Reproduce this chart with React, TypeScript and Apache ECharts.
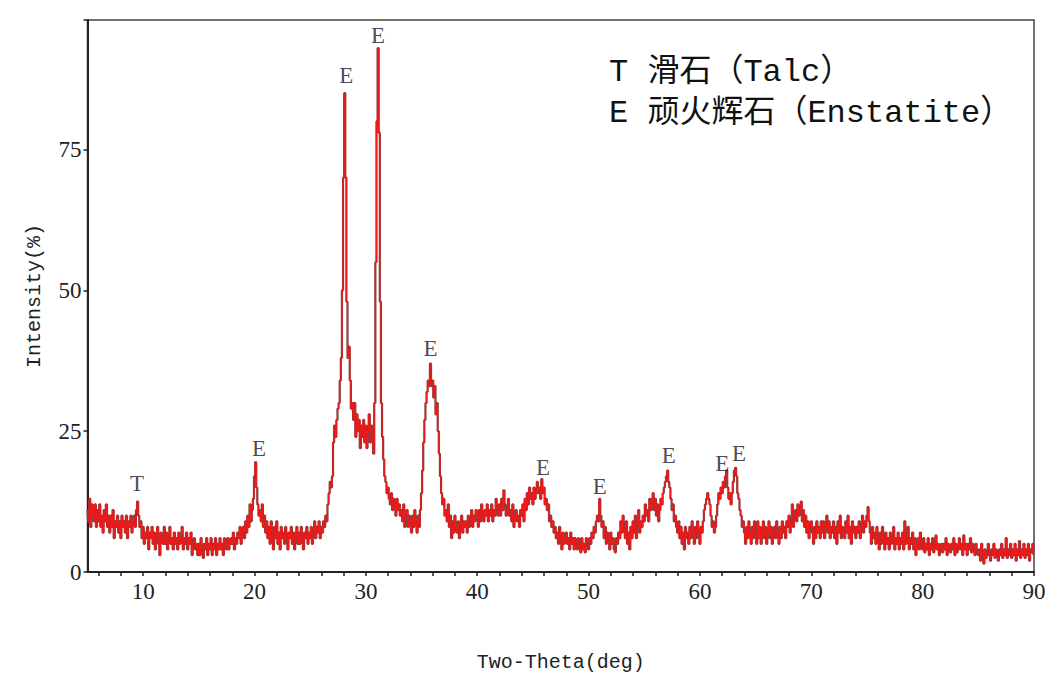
import React, { useEffect, useRef } from "react";
import * as echarts from "echarts";

// XRD intensity (%) sampled every 0.1 deg, one array per 5 degrees of 2θ
const X_START = 5;
const X_STEP = 0.1;
const seg05 = [11,9,13,8,12,10,9,12,8,11, 9,12,8,10,7,11,9,12,8,10, 7,10,8,11,6,9,8,10,7,9, 6,10,8,9,7,10,6,9,8,10, 7,9,10,8,11,12.5,10,8,9,6];
const seg10 = [8,5,7,6,8,4,7,6,8,5, 7,4,6,8,5,3,7,6,5,8, 5,7,4,6,8,5,6,4,7,5, 6,4,7,5,6,8,4,6,5,7, 4,6,5,7,3,5,6,4,5,3];
const seg15 = [5,3,6,4,2.5,5,4,6,3,5, 4,6,3,5,4,6,3,5,4,6, 4,5,3,6,5,4,6,4,5,6, 5,7,4,6,5,7,6,8,5,7, 8,6,9,7,10,8,12,9,11,13];
const seg20 = [17,19.5,15,12,10,11,9,12,8,10, 7,9,6,8,5,9,7,4,8,6, 9,5,7,4,8,6,7,5,8,6, 4,7,6,8,5,7,4,6,8,5, 7,5,8,6,4,7,6,8,5,7];
const seg25 = [6,8,5,7,9,6,8,7,9,6, 8,7,9,8,10,9,12,14,16,15, 17,23,26,24,27,29,30,34,38,50, 70,85,70,48,38,40,34,29,30,27, 30,24,28,25,27,22,26,24,27,23];
const seg30 = [26,22,25,28,23,26,24,21,30,55, 80,93,78,48,30,24,20,17,16,14, 15,13,12,14,11,13,12,10,13,11, 12,10,11,9,12,8,10,11,8,10, 9,7,10,8,11,9,7,10,8,11];
const seg35 = [14,18,23,27,30,32,34,33,37,33, 34,31,33,28,30,25,21,17,14,12, 13,10,11,9,12,8,10,6,9,7, 10,8,7,9,6,8,10,7,9,8, 9,7,10,8,9,11,8,10,9,11];
const seg40 = [10,8,11,9,12,10,9,11,10,12, 9,11,10,12,9,11,10,13,11,10, 12,10,13,11,14.5,12,10,11,13,10, 11,9,12,8,10,11,9,10,8,11, 10,12,9,13,11,14,12,15,13,14];
const seg45 = [12,15,13,14,16,14,15,13,16.5,14, 15,12,13,11,12,9,10,8,9,7, 8,6,7,5,8,6,4,7,5,6, 7,5,6,4,7,5,6,4,6,5, 4,6,5,3.5,6,4,5,3.5,6,5];
const seg50 = [4,6,5,7,6,8,7,9,10,9, 13,10,8,9,6,8,5,7,6,4, 7,5,6,4,3.5,6,5,7,6,9, 7,10,8,6,9,5,7,4,8,6, 9,7,10,6,8,11,7,9,8,10];
const seg55 = [9,12,10,11,9,13,11,12,14,11, 13,10,12,9,11,13,12,14,15,16, 17,18,16,15,13,11,12,9,10,8, 7,9,6,8,5,7,4,8,6,7, 5,8,6,9,7,5,8,6,9,7];
const seg60 = [5,8,7,9,11,12,13,14,13,12, 10,8,9,7,8,10,12,14,13,15, 14,16,15,17,18,15,13,14,12,14, 16,18,18.5,17,14,13,11,10,8,9, 7,5,8,6,9,7,5,8,6,9];
const seg65 = [7,5,9,6,8,5,7,9,6,8, 5,7,9,6,8,5,7,8,6,9, 7,5,8,6,9,7,8,6,9,8, 10,7,9,12,8,10,11,9,12,10, 11,12.5,9,11,8,10,7,9,6,8];
const seg70 = [9,7,5,8,6,9,7,8,6,9, 7,9,6,8,10,7,9,6,8,7, 9,6,8,5,9,7,10,6,8,7, 6,9,7,10,6,8,5,9,7,8, 6,8,7,9,6,8,10,7,9,8];
const seg75 = [10,11.5,9,7,5,8,6,7,5,8, 6,4,7,5,8,6,4,7,5,6, 4,7,5,6,8,4,6,5,7,4, 6,5,7,4,9,5,6,8,4,6, 5,7,4,6,3,5,6,4,7,5];
const seg80 = [4,6,3.5,5,4,6,3,5,4,6, 3.5,5,6.5,4,5,3,4,5,3.5,5, 4,6,3,5,4,3.5,5,4,6,3, 5,3.5,4,6,4,5,3,6.5,4,5, 3,5,4,6,3.5,5,4,3,5,4];
const seg85 = [3,4,2,5,3,1.5,4,2.5,3,5, 3,2,4,3,5,2.5,4,3,2,4, 3,5,2.5,4,3,6,2.5,4,3,5, 2.5,4,3,5,2,4,3,5.5,2.5,4, 3,5,2.5,4,3,5,2,4,3.5,5, 3];

const intensity = [
  ...seg05, ...seg10, ...seg15, ...seg20, ...seg25, ...seg30, ...seg35, ...seg40, ...seg45,
  ...seg50, ...seg55, ...seg60, ...seg65, ...seg70, ...seg75, ...seg80, ...seg85,
];

// Phase labels near peaks
const peakText = ["T", "E", "E", "E", "E", "E", "E", "E", "E", "E"];
const peakX = [9.45, 20.4, 28.24, 31.1, 35.8, 45.9, 51.0, 57.2, 62.0, 63.5];
const peakY = [15.8, 22, 88.2, 95.3, 39.7, 18.6, 15.2, 20.6, 19.3, 21.1];

const xLabelValues = [10, 20, 30, 40, 50, 60, 70, 80, 90];
const xTickValues = [6, 8, 10, 12, 14, 16, 18, 20, 22, 24, 26, 28, 30, 32, 34, 36, 38, 40, 42, 44, 46, 48, 50, 52, 54, 56, 58, 60, 62, 64, 66, 68, 70, 72, 74, 76, 78, 80, 82, 84, 86, 88, 90];
const legendLines = ["T 滑石（Talc）", "E 顽火辉石（Enstatite）"];

export default function App() {
  const ref = useRef<HTMLDivElement>(null);
  useEffect(() => {
    if (!ref.current) return;
    const chart = echarts.init(ref.current, undefined, { renderer: "svg" });
    const data = intensity.map((v, i) => [+(X_START + i * X_STEP).toFixed(1), v]);
    const serif = "'Liberation Serif', 'DejaVu Serif', serif";
    const mono = "'Liberation Mono', 'Noto Sans CJK SC', monospace";
    chart.setOption({
      animation: false,
      backgroundColor: "#ffffff",
      grid: {
        left: 87.5,
        right: 26,
        top: 20,
        bottom: 114,
        show: true,
        borderColor: "#444",
        borderWidth: 1.5,
        containLabel: false,
      },
      xAxis: {
        type: "value",
        min: 5,
        max: 90,
        name: "Two-Theta(deg)",
        nameLocation: "middle",
        nameGap: 80,
        nameTextStyle: { fontFamily: mono, fontSize: 20, color: "#222" },
        axisLine: { show: true, lineStyle: { color: "#222", width: 2 } },
        axisTick: { show: true, customValues: xTickValues, length: 4, lineStyle: { color: "#222", width: 1.5 } },
        axisLabel: { customValues: xLabelValues, fontFamily: serif, fontSize: 23, color: "#222", margin: 8 },
        splitLine: { show: false },
      },
      yAxis: {
        type: "value",
        min: 0,
        max: 98,
        interval: 25,
        name: "Intensity(%)",
        nameLocation: "middle",
        nameGap: 43,
        nameRotate: 90,
        nameTextStyle: { fontFamily: mono, fontSize: 20, color: "#222" },
        axisLine: { show: true, lineStyle: { color: "#222", width: 2 } },
        axisTick: { show: true, length: 4, lineStyle: { color: "#222", width: 1.5 } },
        axisLabel: {
          fontFamily: serif,
          fontSize: 23,
          color: "#222",
          margin: 6,
          formatter: (v: number) => (v > 90 ? "" : String(v)),
        },
        splitLine: { show: false },
      },
      series: [
        {
          type: "line",
          data,
          step: "middle",
          showSymbol: false,
          lineStyle: { color: "#8a3a3a", width: 2.2 },
          z: 2,
        },
        {
          type: "line",
          data,
          step: "middle",
          showSymbol: false,
          lineStyle: { color: "#ff1414", width: 1 },
          z: 3,
        },
        {
          type: "scatter",
          data: peakX.map((x, i) => ({ value: [x, peakY[i]], name: peakText[i] })),
          symbolSize: 0,
          label: {
            show: true,
            position: "inside",
            formatter: (p: any) => p.name,
            fontFamily: serif,
            fontSize: 23,
            color: "#1a1a2a",
          },
          z: 4,
        },
      ],
      graphic: legendLines.map((t, i) => ({
        type: "text",
        left: 609,
        top: 56 + i * 41,
        style: { text: t, font: `32px ${mono}`, fill: "#111" },
      })),
    });
    return () => chart.dispose();
  }, []);
  return <div ref={ref} style={{ position: "fixed", left: 0, top: 0, width: 1060, height: 686 }} />;
}
